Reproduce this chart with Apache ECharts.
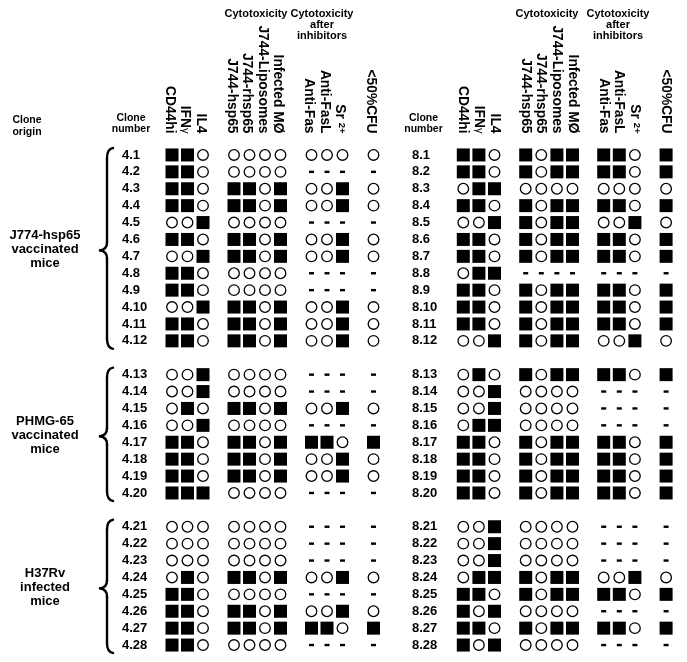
<!DOCTYPE html>
<html><head><meta charset="utf-8">
<script src="https://cdn.jsdelivr.net/npm/echarts@6/dist/echarts.min.js"></script>
<style>html,body{margin:0;padding:0;background:#fff}#c{width:687px;height:662px}</style>
</head><body><div id="c"></div>
<script>
// ---------- data ----------
const columns = ['CD44hi','IFNγ','IL4','J744-hsp65','J744-rhsp65','J744-Liposomes','Infected MØ','Anti-Fas','Anti-FasL','Sr 2+','<50%CFU'];
const columnGroupSizes = [3, 4, 3, 1];
const origins = [['J774-hsp65','vaccinated','mice'], ['PHMG-65','vaccinated','mice'], ['H37Rv','infected','mice']];
const groupSizes = [12, 8, 8];
// 1 = positive (filled square), 0 = negative (open circle), - = not done
const clones4 = ['4.1','4.2','4.3','4.4','4.5','4.6','4.7','4.8','4.9','4.10','4.11','4.12',
                 '4.13','4.14','4.15','4.16','4.17','4.18','4.19','4.20',
                 '4.21','4.22','4.23','4.24','4.25','4.26','4.27','4.28'];
const results4 = [
  '110 0000 000 0','110 0000 --- -','110 1101 001 0','110 1101 001 0','001 0000 --- -','110 1101 001 0',
  '001 1101 001 0','110 0000 --- -','110 0000 --- -','001 1101 001 0','110 1101 001 0','110 1101 001 0',
  '001 0000 --- -','001 0000 --- -','010 1101 001 0','001 0000 --- -','110 1101 110 1','110 1101 001 0',
  '110 1101 001 0','111 0000 --- -',
  '000 0000 --- -','000 0000 --- -','000 0000 --- -','010 1101 001 0','110 0000 --- -','110 1101 001 0',
  '110 1101 110 1','110 0000 --- -'
];
const clones8 = ['8.1','8.2','8.3','8.4','8.5','8.6','8.7','8.8','8.9','8.10','8.11','8.12',
                 '8.13','8.14','8.15','8.16','8.17','8.18','8.19','8.20',
                 '8.21','8.22','8.23','8.24','8.25','8.26','8.27','8.28'];
const results8 = [
  '110 1011 110 1','110 1011 110 1','011 0000 000 0','110 1011 110 1','001 1011 001 0','110 1011 110 1',
  '110 1011 110 1','011 ---- --- -','110 1011 110 1','110 1011 110 1','110 1011 110 1','001 1011 001 0',
  '010 1011 110 1','001 0000 --- -','001 0000 --- -','011 0000 --- -','110 1011 110 1','110 1011 110 1',
  '110 1011 110 1','110 1011 110 1',
  '001 0000 --- -','001 0000 --- -','001 0000 --- -','011 1011 001 0','110 1011 110 1','101 0000 --- -',
  '110 1011 110 1','101 0000 --- -'
];

// ---------- layout ----------
const FONT = '"Liberation Sans", Arial, Helvetica, sans-serif';
const TOP = 146.5, ROW = 16.9;
const blocks = [
  {clones: clones4, results: results4, left: 164.25, step: 15.5, labelX: 122, headShift: 5},
  {clones: clones8, results: results8, left: 455.5, step: 15.6, labelX: 412, headShift: 0}
];

// x slots (gaps between column groups)
const xCats = []; const slotOf = [];
columnGroupSizes.forEach((n, g) => {
  for (let k = 0; k < n; k++) { slotOf.push(xCats.length); xCats.push(columns[slotOf.length - 1]); }
  if (g < columnGroupSizes.length - 1) xCats.push('');
});
// y rows (gaps between clone origins)
function buildRows(clones) {
  const cats = []; const rowOf = []; let c = 0;
  groupSizes.forEach((n, g) => {
    for (let k = 0; k < n; k++) { rowOf.push(cats.length); cats.push(clones[c++]); }
    if (g < groupSizes.length - 1) cats.push('');
  });
  return {cats, rowOf};
}

const grids = [], xAxes = [], yAxes = [], series = [];
let rowOfRef;
blocks.forEach((b, bi) => {
  const {cats, rowOf} = buildRows(b.clones);
  rowOfRef = rowOf;
  grids.push({left: b.left, top: TOP, width: b.step * xCats.length, height: ROW * cats.length,
              containLabel: false, outerBoundsMode: 'none'});
  xAxes.push({
    type: 'category', gridIndex: bi, data: xCats, position: 'top',
    axisLine: {show: false}, axisTick: {show: false}, splitLine: {show: false},
    axisLabel: {
      interval: 0, rotate: 90, margin: 13, color: '#000', padding: [b.headShift, 0, 0, 0],
      fontFamily: FONT, fontWeight: 'bold', fontSize: 13.8,
      formatter: v => v === 'IFNγ' ? '{b|IFN}{g|γ}' : (v === 'Sr 2+' ? '{b|Sr }{s|2+}' : v),
      rich: {
        b: {fontFamily: FONT, fontWeight: 'bold', fontSize: 13.8, color: '#000'},
        g: {fontFamily: FONT, fontWeight: 'normal', fontSize: 11, color: '#000'},
        s: {fontFamily: FONT, fontWeight: 'bold', fontSize: 9.5, color: '#000', verticalAlign: 'top'}
      }
    }
  });
  yAxes.push({
    type: 'category', gridIndex: bi, data: cats, inverse: true,
    axisLine: {show: false}, axisTick: {show: false}, splitLine: {show: false},
    axisLabel: {interval: 0, align: 'left', margin: b.left - b.labelX, color: '#000',
                fontFamily: FONT, fontWeight: 'bold', fontSize: 13}
  });
  const pos = [], neg = [], nd = [];
  b.results.forEach((r, i) => {
    const vals = r.replace(/ /g, '').split('');
    vals.forEach((ch, j) => {
      const pt = [slotOf[j], rowOf[i]];
      if (ch === '1') pos.push(pt); else if (ch === '0') neg.push(pt); else nd.push(pt);
    });
  });
  const common = {type: 'scatter', xAxisIndex: bi, yAxisIndex: bi, silent: true, animation: false};
  series.push(Object.assign({}, common, {name: 'positive', data: pos, symbol: 'rect', symbolSize: 13,
    itemStyle: {color: '#000', opacity: 1}}));
  series.push(Object.assign({}, common, {name: 'negative', data: neg, symbol: 'circle', symbolSize: 10.6,
    itemStyle: {color: '#fff', borderColor: '#000', borderWidth: 1.3, opacity: 1}}));
  series.push(Object.assign({}, common, {name: 'not done', data: nd, symbol: 'rect', symbolSize: [5, 2.4],
    itemStyle: {color: '#000', opacity: 1}}));
});

// ---------- annotations ----------
const rowY = i => TOP + (i + 0.5) * ROW;
const graphic = [];
function txt(text, x, y, size, lh) {
  graphic.push({type: 'text', silent: true, style: {text, x, y, fill: '#000', align: 'center', verticalAlign: 'middle',
    fontFamily: FONT, fontWeight: 'bold', fontSize: size, lineHeight: lh || size}});
}
txt('Clone\norigin', 27, 126, 10.5, 12);
txt('Clone\nnumber', 131, 123.5, 10.5, 11);
txt('Clone\nnumber', 423.5, 123.5, 10.5, 11);
txt('Cytotoxicity', 256, 14, 11);
txt('Cytotoxicity', 547, 14, 11);
txt('Cytotoxicity\nafter\ninhibitors', 322, 25, 11, 11.3);
txt('Cytotoxicity\nafter\ninhibitors', 618, 25, 11, 11.3);

let start = 0;
groupSizes.forEach((n, g) => {
  const y0 = rowY(rowOfRef[start]), y1 = rowY(rowOfRef[start + n - 1]);
  const mid = (y0 + y1) / 2;
  txt(origins[g].join('\n'), 45, mid + 2, 13, 14);
  const top = y0 - 7, bot = y1 + 8, tip = mid + 2.5;
  const st = {stroke: '#000', lineWidth: 2.4, fill: null, lineCap: 'round'};
  graphic.push({type: 'bezierCurve', silent: true, shape: {x1: 113, y1: top, cpx1: 107, cpy1: top + 1, x2: 107, y2: top + 10}, style: st});
  graphic.push({type: 'line', silent: true, shape: {x1: 107, y1: top + 10, x2: 107, y2: tip - 8}, style: st});
  graphic.push({type: 'bezierCurve', silent: true, shape: {x1: 107, y1: tip - 8, cpx1: 107, cpy1: tip - 1, x2: 100, y2: tip}, style: st});
  graphic.push({type: 'bezierCurve', silent: true, shape: {x1: 100, y1: tip, cpx1: 107, cpy1: tip + 1, x2: 107, y2: tip + 8}, style: st});
  graphic.push({type: 'line', silent: true, shape: {x1: 107, y1: tip + 8, x2: 107, y2: bot - 10}, style: st});
  graphic.push({type: 'bezierCurve', silent: true, shape: {x1: 107, y1: bot - 10, cpx1: 107, cpy1: bot - 1, x2: 113, y2: bot}, style: st});
  start += n;
});

const chart = echarts.init(document.getElementById('c'), null, {renderer: 'canvas'});
chart.setOption({
  backgroundColor: '#fff', animation: false,
  grid: grids, xAxis: xAxes, yAxis: yAxes, series, graphic
});
</script></body></html>
